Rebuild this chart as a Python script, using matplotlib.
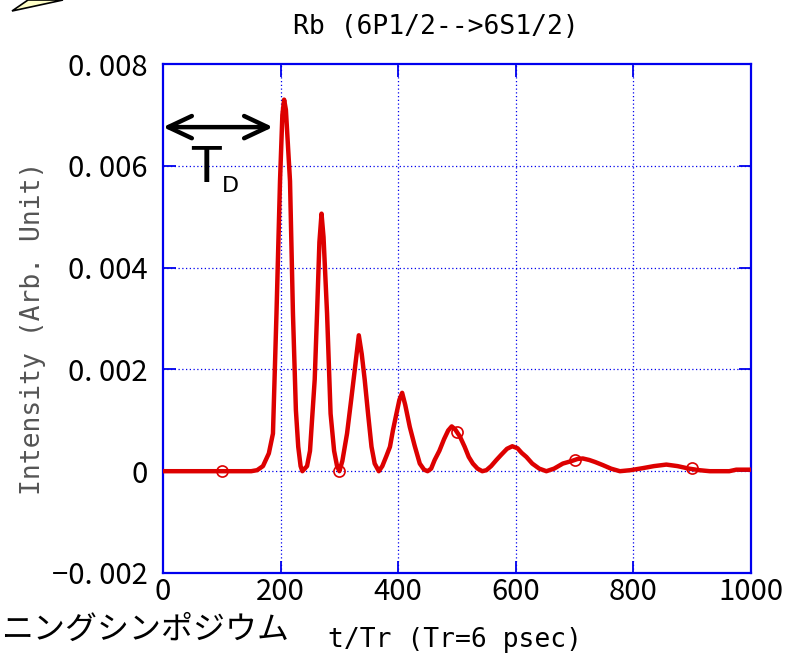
import matplotlib
matplotlib.use("Agg")
import matplotlib.pyplot as plt
from matplotlib.patches import Polygon

# time (in units of Tr) and emitted intensity of the ringing pulse
t_tr = [0, 100, 150, 160, 170, 180, 187, 193, 199, 203, 206, 209, 213, 216, 221,
        226, 230, 234, 237, 245, 250, 254, 258, 262, 266, 269.6, 273, 279, 285,
        291, 296, 300, 305, 313, 320, 326, 333, 338, 343, 349, 354.6, 360, 367,
        373, 380, 386, 391, 397, 402, 406.7, 412, 419.7, 428, 436.7, 444, 450,
        456, 462, 470, 478, 485, 491, 497, 505, 513, 520, 527, 535, 543, 550,
        558, 567, 575, 585, 594, 603, 610, 618, 628, 640, 652, 665, 680, 695,
        705, 714, 725, 735, 748, 762, 777, 795, 816, 835, 856, 875, 895, 912,
        930, 963, 975, 1000]
intensity = [0, 0, 0, 0.00002, 0.0001, 0.00035, 0.00074, 0.0031, 0.0057, 0.0070,
             0.0073, 0.0071, 0.0063, 0.0057, 0.0031, 0.0012, 0.00048, 0.0001, 0.0,
             0.0001, 0.0004, 0.0011, 0.0018, 0.0031, 0.0045, 0.00506, 0.0046,
             0.0031, 0.00113, 0.0004, 0.0001, 0.0, 0.0002, 0.00074, 0.0014,
             0.00198, 0.00267, 0.0023, 0.0018, 0.0011, 0.00048, 0.00015, 0.0,
             0.0001, 0.0003, 0.00048, 0.0008, 0.00113, 0.0014, 0.00154, 0.0013,
             0.00087, 0.0005, 0.00015, 0.00003, 0.0, 0.00005, 0.00022, 0.0004,
             0.00063, 0.0008, 0.00088, 0.00082, 0.00068, 0.00048, 0.00028,
             0.00015, 0.00005, 0.0, 0.00002, 0.0001, 0.00022, 0.00032, 0.00044,
             0.00049, 0.00045, 0.00036, 0.00028, 0.00015, 0.00005, 0.0, 0.00005,
             0.00015, 0.0002, 0.00024, 0.00025, 0.00022, 0.00018, 0.00012,
             0.00005, 0.0, 0.00002, 0.00006, 0.0001, 0.00013, 0.0001, 0.00005,
             0.00002, 0.0, 0.0, 0.00003, 0.00003]

# open circle markers drawn on the curve
marker_t = [100, 300, 500, 700, 900]
marker_i = [0.0, 0.0, 0.00077, 0.00022, 0.00006]

x_ticks = [0, 200, 400, 600, 800, 1000]
y_ticks = [-0.002, 0, 0.002, 0.004, 0.006, 0.008]
y_tick_labels = ["\u22120. 002", "0", "0. 002", "0. 004", "0. 006", "0. 008"]

# delay time arrow
td_start, td_end, td_level = 0, 187, 0.00676

jp = ["Noto Sans CJK JP", "DejaVu Sans"]
mono = ["DejaVu Sans Mono"]
blue = "#0000ee"
red = "#dd0000"

fig = plt.figure(figsize=(7.86, 6.55), dpi=100)
ax = fig.add_axes([163 / 786, 1 - 573 / 655, 588 / 786, 509 / 655])

ax.plot(t_tr, intensity, color=red, lw=3.2, solid_joinstyle="round", zorder=3)
ax.plot(marker_t, marker_i, ls="none", marker="o", ms=8, mfc="none",
        mec=red, mew=1.2, zorder=4)

ax.set_xlim(0, 1000)
ax.set_ylim(-0.002, 0.008)
ax.set_xticks(x_ticks)
ax.set_xticklabels([str(v) for v in x_ticks], family=jp, fontsize=21)
ax.set_yticks(y_ticks)
ax.set_yticklabels(y_tick_labels, family=jp, fontsize=21)
ax.tick_params(direction="in", length=9, width=1.3, color=blue,
               top=True, right=True)
ax.tick_params(axis="x", pad=3)
ax.tick_params(axis="y", pad=11)

for v in x_ticks[1:-1]:
    ax.axvline(v, color=blue, lw=0.9, ls=(0, (1, 2)), zorder=1)
for v in y_ticks[1:-1]:
    ax.axhline(v, color=blue, lw=0.9, ls=(0, (1, 2)), zorder=1)

for s in ax.spines.values():
    s.set_color(blue)
    s.set_linewidth(1.6)

ax.annotate("", xy=(td_end, td_level), xytext=(td_start, td_level),
            arrowprops=dict(arrowstyle="<->,head_length=1.7,head_width=0.8",
                            color="black", lw=3.2, shrinkA=0, shrinkB=0),
            annotation_clip=False, zorder=5)
fig.text(206 / 786, 1 - 168 / 655, "T", fontsize=35, family="DejaVu Sans",
         ha="center", va="center")
fig.text(230 / 786, 1 - 186 / 655, "D", fontsize=16, family="DejaVu Sans",
         ha="center", va="center")

fig.text(436 / 786, 1 - 27 / 655, "Rb (6P1/2-->6S1/2)", family=mono,
         fontsize=19, ha="center", va="center")
fig.text(455 / 786, 1 - 640 / 655, "t/Tr (Tr=6 psec)", family=mono,
         fontsize=19, ha="center", va="center")
fig.text(33 / 786, 1 - 328 / 655, "Intensity (Arb. Unit)", family=mono,
         fontsize=19, color="#555555", rotation=90, ha="center", va="center")
fig.text(1 / 786, 1 - 630 / 655, "ニングシンポジウム", family=jp,
         fontsize=23, ha="left", va="center")

# corner of a callout shape
fig.patches.append(Polygon([(12 / 786, 1 - 11 / 655), (28 / 786, 1.0),
                            (63 / 786, 1.0)], closed=True,
                           transform=fig.transFigure, facecolor="#ffffc8",
                           edgecolor="black", lw=1.2))

fig.savefig("out.png", dpi=100)
